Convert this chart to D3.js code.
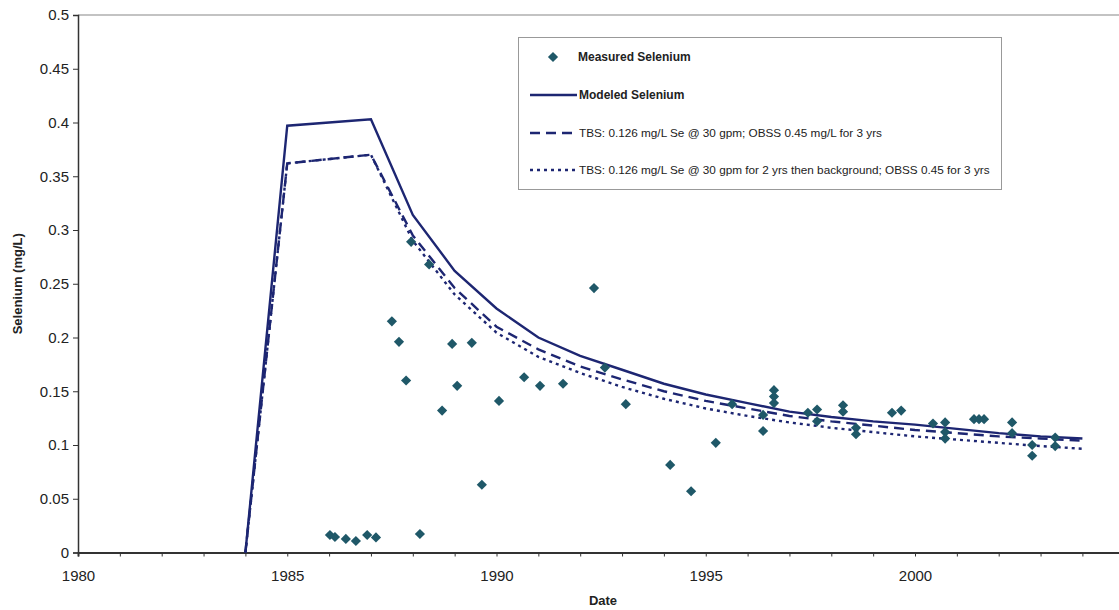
<!DOCTYPE html>
<html>
<head>
<meta charset="utf-8">
<script src="https://cdn.jsdelivr.net/npm/d3@7"></script>
<style>
  body { margin: 0; background: #fff; }
  svg { display: block; font-family: "Liberation Sans", Arial, sans-serif; }
  .axis text { font-size: 15px; fill: #222; }
  .axis path, .axis line { stroke: #333; }
</style>
</head>
<body>
<div id="chart"></div>
<script>
const width = 1119;
const height = 610;

// measured selenium samples: [decimal year, mg/L]
const measuredYears = [
  1986.02, 1986.14, 1986.40, 1986.64, 1986.91, 1987.12, 1987.50, 1987.67, 1987.84, 1987.96,
  1988.17, 1988.39, 1988.70, 1988.94, 1989.06, 1989.41, 1989.65, 1990.06, 1990.66, 1991.04,
  1991.59, 1992.33, 1992.59, 1993.09, 1994.15, 1994.65, 1995.24, 1995.63, 1996.37, 1996.37,
  1996.63, 1996.63, 1996.63, 1997.44, 1997.66, 1997.66, 1998.28, 1998.28, 1998.59, 1998.59,
  1999.45, 1999.67, 2000.43, 2000.72, 2000.72, 2000.72, 2001.41, 2001.53, 2001.65, 2002.32,
  2002.32, 2002.80, 2002.80, 2003.35, 2003.35
];
const measuredValues = [
  0.0163, 0.0144, 0.0126, 0.0107, 0.0163, 0.0140, 0.215, 0.196, 0.160, 0.289,
  0.0172, 0.268, 0.132, 0.194, 0.155, 0.195, 0.063, 0.141, 0.163, 0.155,
  0.157, 0.246, 0.172, 0.138, 0.0815, 0.057, 0.102, 0.138, 0.128, 0.113,
  0.151, 0.145, 0.139, 0.130, 0.133, 0.122, 0.137, 0.131, 0.116, 0.110,
  0.130, 0.132, 0.120, 0.121, 0.112, 0.106, 0.124, 0.124, 0.124, 0.121,
  0.111, 0.100, 0.090, 0.107, 0.099
];

// model runs, one value per year
const modelYears = [1984, 1985, 1987, 1988, 1989, 1990, 1991, 1992, 1993, 1994, 1995,
  1996, 1997, 1998, 1999, 2000, 2001, 2002, 2003, 2004];
const modeled = [0, 0.397, 0.403, 0.314, 0.262, 0.227, 0.200, 0.183, 0.170, 0.157, 0.147,
  0.139, 0.131, 0.126, 0.122, 0.119, 0.115, 0.111, 0.108, 0.106];
const tbsRun = [0, 0.362, 0.370, 0.295, 0.246, 0.210, 0.189, 0.173, 0.161, 0.150, 0.141,
  0.134, 0.127, 0.122, 0.118, 0.114, 0.111, 0.108, 0.106, 0.104];
const tbsTwoYrRun = [0, 0.362, 0.370, 0.290, 0.240, 0.2045, 0.182, 0.167, 0.154, 0.143, 0.134,
  0.127, 0.121, 0.116, 0.112, 0.108, 0.105, 0.102, 0.099, 0.0965];

const yTicks = [0, 0.05, 0.1, 0.15, 0.2, 0.25, 0.3, 0.35, 0.4, 0.45, 0.5];
const xTicks = d3.range(1980, 2005);

const seriesLabels = [
  'Measured Selenium',
  'Modeled Selenium',
  'TBS: 0.126 mg/L Se @ 30 gpm; OBSS 0.45 mg/L for 3 yrs',
  'TBS: 0.126 mg/L Se @ 30 gpm for 2 yrs then background; OBSS 0.45 for 3 yrs',
];

const lineColor = '#1d2672';
const dotColor = '#1f5868';

const svg = d3.select('#chart').append('svg')
  .attr('width', width)
  .attr('height', height);

const x = d3.scaleLinear().domain([1980, 2005]).range([78, 1124.25]);
const y = d3.scaleLinear().domain([0, 0.5]).range([552.5, 15]);

// plot frame top
svg.append('line')
  .attr('x1', x(1980)).attr('x2', width)
  .attr('y1', y(0.5)).attr('y2', y(0.5))
  .attr('stroke', '#888').attr('stroke-width', 1.2);

svg.append('g')
  .attr('class', 'axis')
  .attr('transform', 'translate(' + x(1980) + ',0)')
  .call(d3.axisLeft(y).tickValues(yTicks).tickSize(5).tickPadding(4)
    .tickFormat((d) => (d === 0 ? '0' : String(+d.toFixed(2)))))
  .call((g) => g.select('.domain').attr('stroke-width', 1.5));

svg.append('g')
  .attr('class', 'axis')
  .attr('transform', 'translate(0,' + y(0) + ')')
  .call(d3.axisBottom(x).tickValues(xTicks).tickSize(4).tickPadding(14)
    .tickFormat((d) => (d % 5 === 0 ? d : '')))
  .call((g) => g.select('.domain').attr('stroke-width', 2));

svg.append('text')
  .attr('x', 603).attr('y', 605)
  .attr('text-anchor', 'middle')
  .attr('font-size', 13).attr('font-weight', 'bold').attr('fill', '#222')
  .text('Date');

svg.append('text')
  .attr('transform', 'translate(22,' + y(0.25) + ') rotate(-90)')
  .attr('text-anchor', 'middle')
  .attr('font-size', 13).attr('font-weight', 'bold').attr('fill', '#222')
  .text('Selenium (mg/L)');

const line = d3.line()
  .x((d, i) => x(modelYears[i]))
  .y((d) => y(d));

const styles = [
  { data: modeled, dash: null },
  { data: tbsRun, dash: '10,6' },
  { data: tbsTwoYrRun, dash: '3,4' },
];

svg.append('g').selectAll('path')
  .data(styles)
  .enter()
  .append('path')
  .attr('d', (s) => line(s.data))
  .attr('fill', 'none')
  .attr('stroke', lineColor)
  .attr('stroke-width', 2.4)
  .attr('stroke-dasharray', (s) => s.dash);

const diamond = d3.symbol().type(d3.symbolSquare).size(52);

svg.append('g').selectAll('path')
  .data(measuredValues)
  .enter()
  .append('path')
  .attr('d', diamond)
  .attr('transform', (d, i) => 'translate(' + x(measuredYears[i]) + ',' + y(d) + ') rotate(45)')
  .attr('fill', dotColor);

// legend
const legend = svg.append('g');
legend.append('rect')
  .attr('x', 518.5).attr('y', 37.5)
  .attr('width', 483).attr('height', 152)
  .attr('fill', '#fff').attr('stroke', '#999');

const rowsY = [57, 95, 133, 170];

legend.append('path')
  .attr('d', diamond)
  .attr('transform', 'translate(553,' + rowsY[0] + ') rotate(45)')
  .attr('fill', dotColor);

legend.selectAll('line')
  .data(styles)
  .enter()
  .append('line')
  .attr('x1', 530).attr('x2', 577)
  .attr('y1', (s, i) => rowsY[i + 1]).attr('y2', (s, i) => rowsY[i + 1])
  .attr('stroke', lineColor)
  .attr('stroke-width', 2.4)
  .attr('stroke-dasharray', (s) => s.dash);

legend.selectAll('text')
  .data(seriesLabels)
  .enter()
  .append('text')
  .attr('x', (d, i) => (i === 0 ? 578 : 579))
  .attr('y', (d, i) => rowsY[i] + 4)
  .attr('font-size', (d, i) => (i < 2 ? 12 : 11.75))
  .attr('font-weight', (d, i) => (i < 2 ? 'bold' : 'normal'))
  .attr('fill', '#222')
  .text((d) => d);
</script>
</body>
</html>
